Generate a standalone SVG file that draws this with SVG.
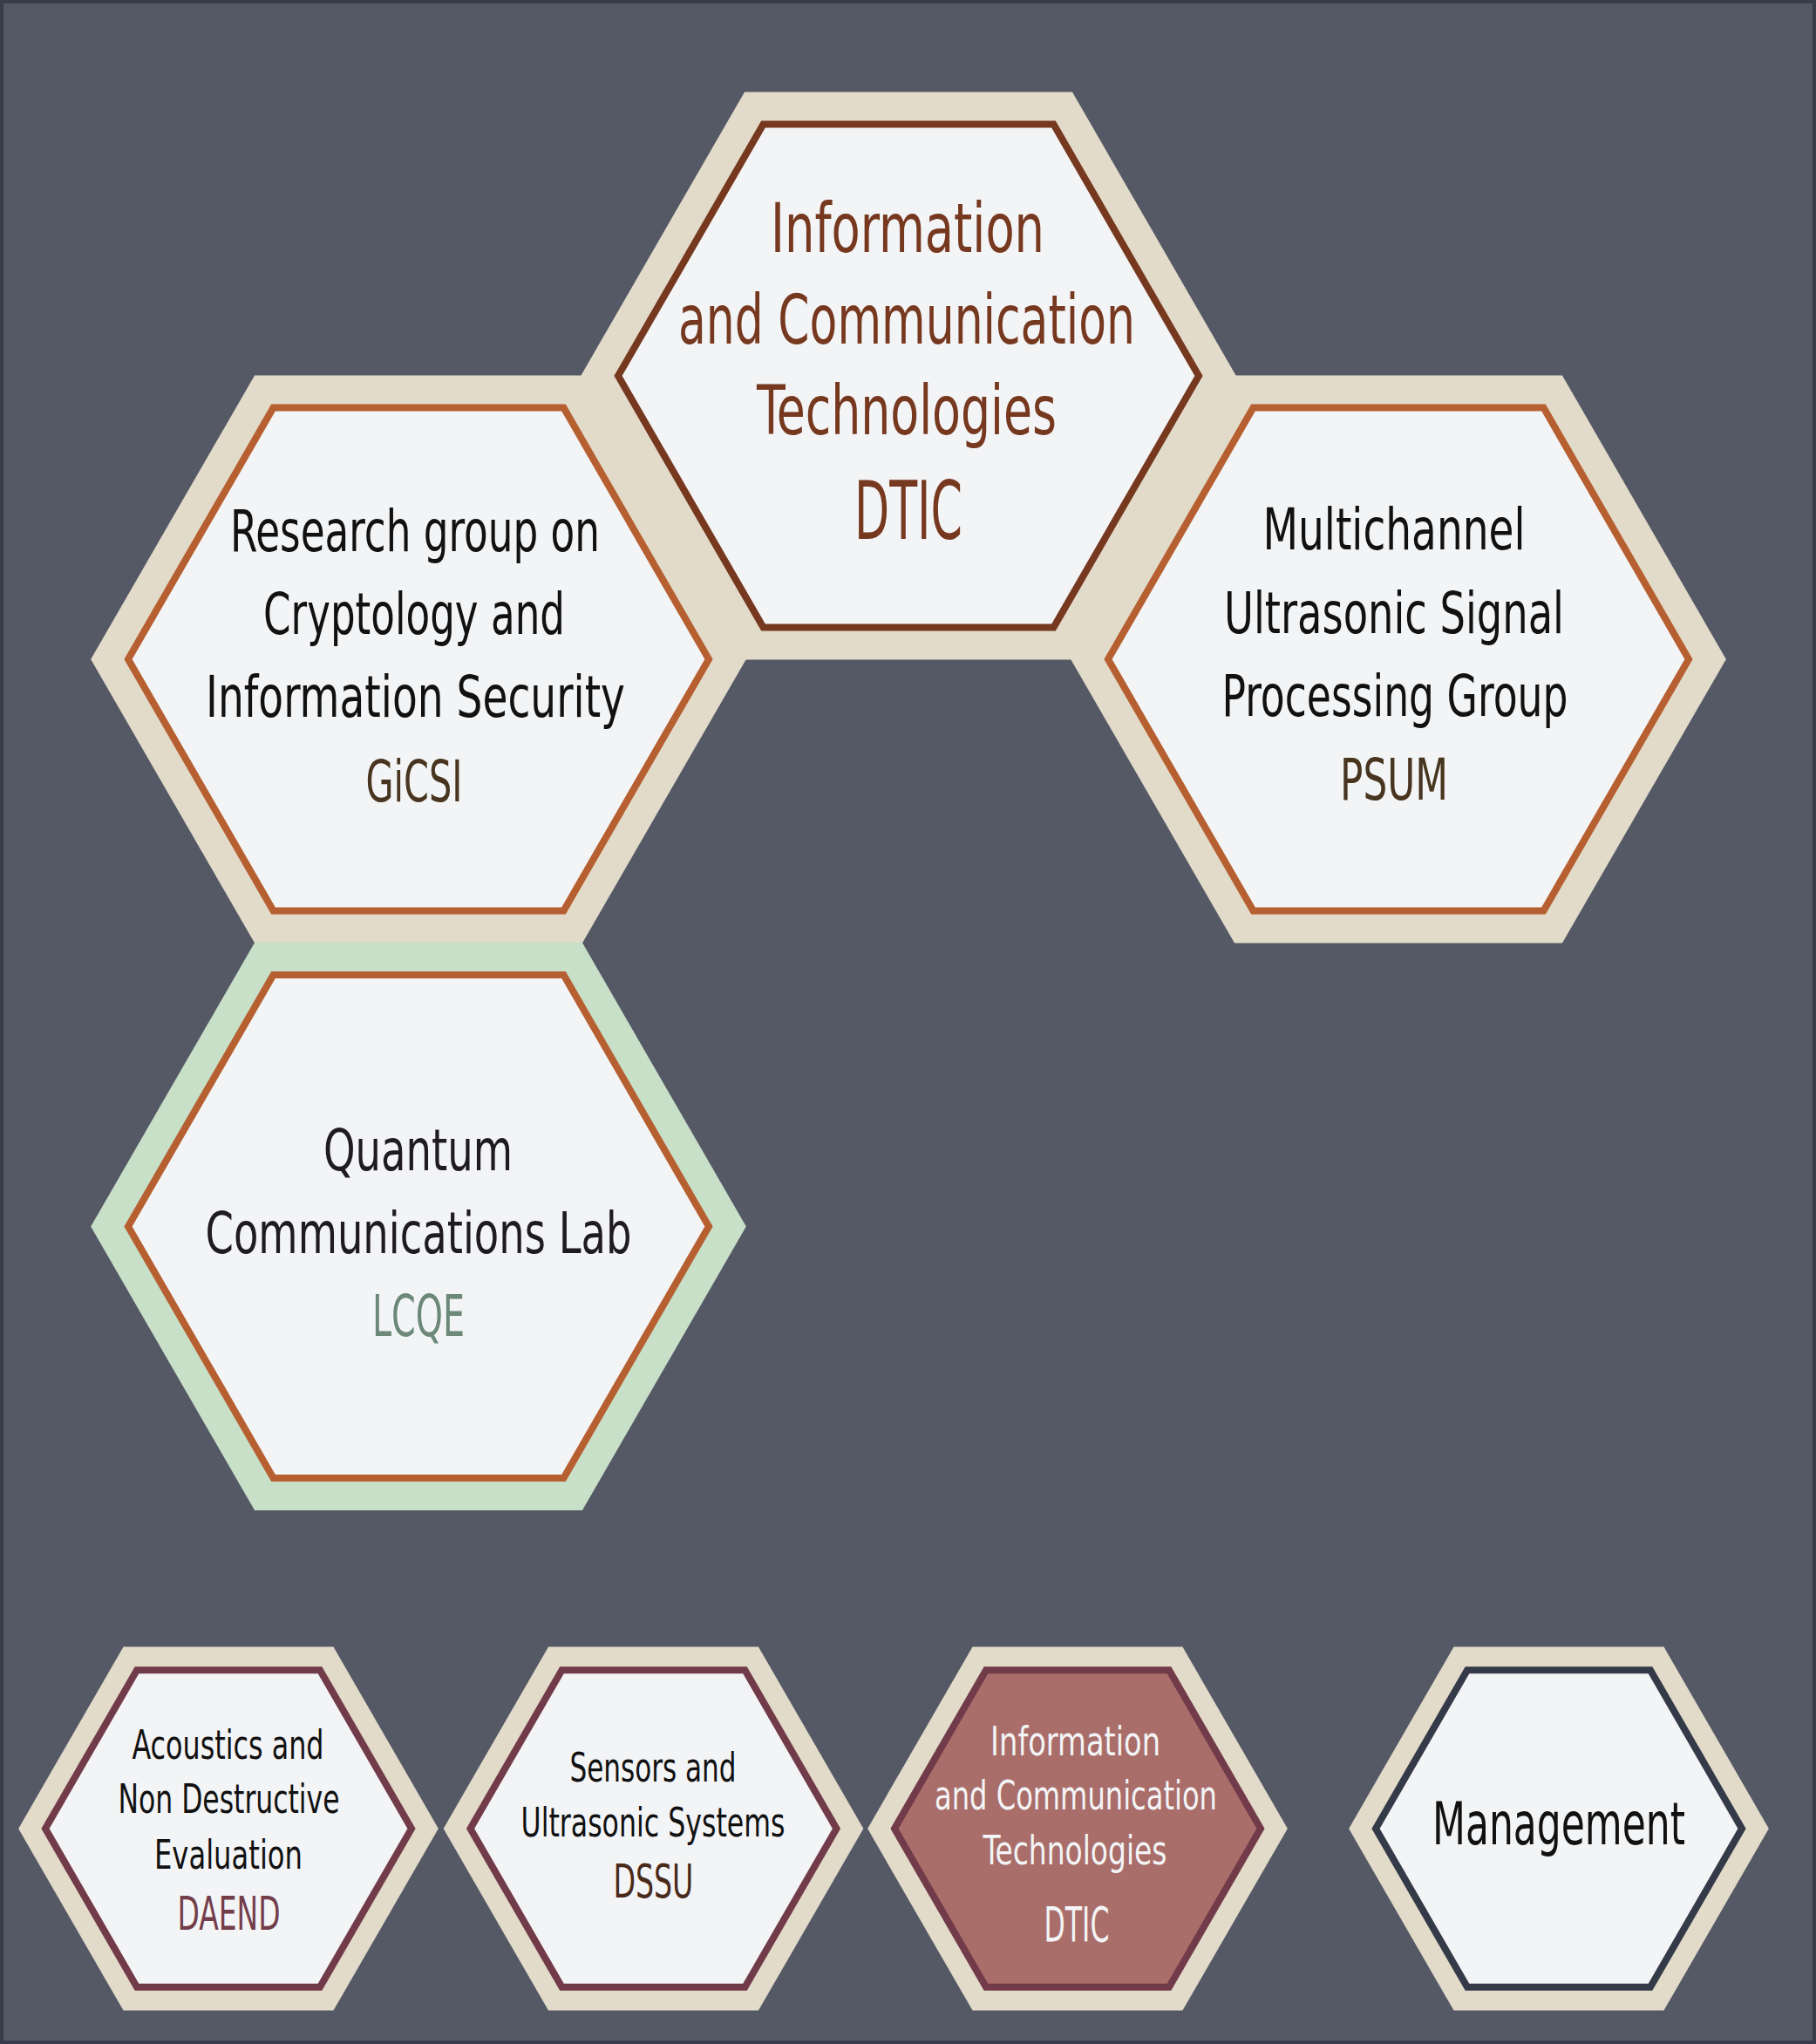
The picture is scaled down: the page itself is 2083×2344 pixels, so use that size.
<svg xmlns="http://www.w3.org/2000/svg" xmlns:xlink="http://www.w3.org/1999/xlink" width="2083" height="2344" viewBox="0 0 2083 2344">
<style>
.bg{fill:#555966;stroke:#383c4b;stroke-width:8}
.rimB{fill:#e2dbc9;stroke:#e2dbc9;stroke-width:1.5}
.rimG{fill:#c8dfc8;stroke:#c8dfc8;stroke-width:1.5}
.inner{fill:#f3f4f6;stroke-width:8;stroke-linejoin:miter}
.sDt{stroke:#76381f}
.sOr{stroke:#b65f30}
.sMa{stroke:#723b4a}
.sDk{stroke:#343a48}
text{font-family:"Liberation Sans Narrow","DejaVu Sans Condensed","Open Sans","Liberation Sans",sans-serif;text-anchor:middle}
.big{font-size:78px;fill:#76381f}
.bigA{font-size:92px;fill:#76381f}
.med{font-size:66px;fill:#111111}
.medA{font-size:66px;fill:#47351f}
.lcqe{font-size:66px;fill:#6b8878}
.qt{font-size:66px;fill:#1f1b20}
.sm{font-size:46px;fill:#111111}
.smA{font-size:53px}
.wh{font-size:46px;fill:#f3f4f6}
.whA{font-size:55px;fill:#f3f4f6}
.mg{font-size:67px;fill:#111111}
</style>
<defs>
<polygon id="hBo" points="-375,0 -187.5,-324.76 187.5,-324.76 375,0 187.5,324.76 -187.5,324.76"/>
<polygon id="hBi" points="-333,0 -166.5,-288.38 166.5,-288.38 333,0 166.5,288.38 -166.5,288.38"/>
<polygon id="hSo" points="-240,0 -120,-207.85 120,-207.85 240,0 120,207.85 -120,207.85"/>
<polygon id="hSi" points="-210,0 -105,-181.87 105,-181.87 210,0 105,181.87 -105,181.87"/>
</defs>
<rect class="bg" x="0" y="0" width="2083" height="2344"/>
<g id="connectors"/>
<g id="node-dtic">
<use xlink:href="#hBo" class="rimB" x="1042" y="431"/>
<use xlink:href="#hBi" class="inner sDt" x="1042" y="431"/>
<text class="big" x="1041" y="288.6" textLength="314" lengthAdjust="spacingAndGlyphs">Information</text>
<text class="big" x="1040" y="393.5" textLength="524" lengthAdjust="spacingAndGlyphs">and Communication</text>
<text class="big" x="1040" y="497.6" textLength="344" lengthAdjust="spacingAndGlyphs">Technologies</text>
<text class="bigA" x="1042" y="618" textLength="124" lengthAdjust="spacingAndGlyphs">DTIC</text>
</g>
<g id="node-gicsi">
<use xlink:href="#hBo" class="rimB" x="480" y="756"/>
<use xlink:href="#hBi" class="inner sOr" x="480" y="756"/>
<text class="med" x="476" y="631.6" textLength="424" lengthAdjust="spacingAndGlyphs">Research group on</text>
<text class="med" x="475" y="727" textLength="346" lengthAdjust="spacingAndGlyphs">Cryptology and</text>
<text class="med" x="476.5" y="822.4" textLength="481" lengthAdjust="spacingAndGlyphs">Information Security</text>
<text class="medA" x="475" y="918.7" textLength="111" lengthAdjust="spacingAndGlyphs">GiCSI</text>
</g>
<g id="node-psum">
<use xlink:href="#hBo" class="rimB" x="1604" y="756"/>
<use xlink:href="#hBi" class="inner sOr" x="1604" y="756"/>
<text class="med" x="1599" y="630.3" textLength="301" lengthAdjust="spacingAndGlyphs">Multichannel</text>
<text class="med" x="1599" y="725.7" textLength="390" lengthAdjust="spacingAndGlyphs">Ultrasonic Signal</text>
<text class="med" x="1600" y="821" textLength="397" lengthAdjust="spacingAndGlyphs">Processing Group</text>
<text class="medA" x="1599" y="916.5" textLength="124" lengthAdjust="spacingAndGlyphs">PSUM</text>
</g>
<g id="node-lcqe">
<use xlink:href="#hBo" class="rimG" x="480" y="1406.5"/>
<use xlink:href="#hBi" class="inner sOr" x="480" y="1406.5"/>
<text class="qt" x="479.5" y="1341.9" textLength="217" lengthAdjust="spacingAndGlyphs">Quantum</text>
<text class="qt" x="480" y="1437.3" textLength="489" lengthAdjust="spacingAndGlyphs">Communications Lab</text>
<text class="lcqe" x="480" y="1531.8" textLength="106" lengthAdjust="spacingAndGlyphs">LCQE</text>
</g>
<g id="node-daend">
<use xlink:href="#hSo" class="rimB" x="262" y="2097"/>
<use xlink:href="#hSi" class="inner sMa" x="262" y="2097"/>
<text class="sm" x="261.5" y="2016.7" textLength="220" lengthAdjust="spacingAndGlyphs">Acoustics and</text>
<text class="sm" x="262.5" y="2079.3" textLength="254" lengthAdjust="spacingAndGlyphs">Non Destructive</text>
<text class="sm" x="262" y="2142.7" textLength="170" lengthAdjust="spacingAndGlyphs">Evaluation</text>
<text class="smA" x="262.5" y="2213.3" textLength="118" lengthAdjust="spacingAndGlyphs" fill="#733e4a">DAEND</text>
</g>
<g id="node-dssu">
<use xlink:href="#hSo" class="rimB" x="749.5" y="2097"/>
<use xlink:href="#hSi" class="inner sMa" x="749.5" y="2097"/>
<text class="sm" x="749" y="2043.3" textLength="191" lengthAdjust="spacingAndGlyphs">Sensors and</text>
<text class="sm" x="749" y="2106" textLength="303" lengthAdjust="spacingAndGlyphs">Ultrasonic Systems</text>
<text class="smA" x="749.4" y="2176" textLength="92" lengthAdjust="spacingAndGlyphs" fill="#4a2a1a">DSSU</text>
</g>
<g id="node-dtic-small">
<use xlink:href="#hSo" class="rimB" x="1236" y="2097"/>
<use xlink:href="#hSi" class="inner sMa" x="1236" y="2097" style="fill:#a96e6a"/>
<text class="wh" x="1233.6" y="2012.7" textLength="195" lengthAdjust="spacingAndGlyphs">Information</text>
<text class="wh" x="1234" y="2075" textLength="324" lengthAdjust="spacingAndGlyphs">and Communication</text>
<text class="wh" x="1233" y="2138.3" textLength="211" lengthAdjust="spacingAndGlyphs">Technologies</text>
<text class="whA" x="1235" y="2226" textLength="75" lengthAdjust="spacingAndGlyphs">DTIC</text>
</g>
<g id="node-management">
<use xlink:href="#hSo" class="rimB" x="1788" y="2097"/>
<use xlink:href="#hSi" class="inner sDk" x="1788" y="2097"/>
<text class="mg" x="1788" y="2115" textLength="290" lengthAdjust="spacingAndGlyphs">Management</text>
</g>
</svg>
